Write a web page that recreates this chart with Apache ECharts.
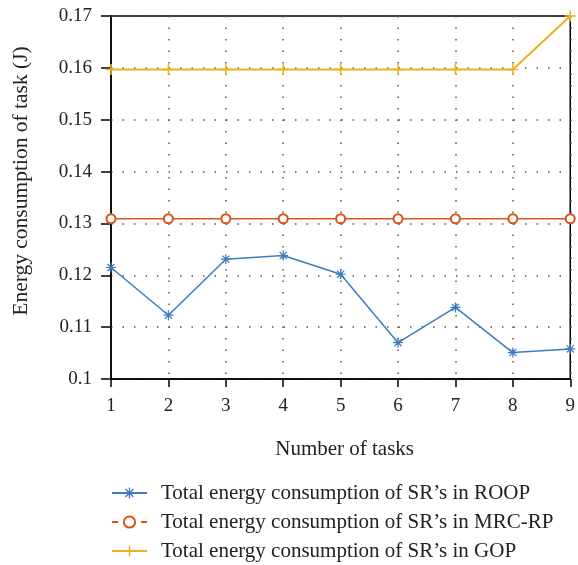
<!DOCTYPE html>
<html><head><meta charset="utf-8">
<script src="https://cdn.jsdelivr.net/npm/echarts@6/dist/echarts.min.js"></script>
<style>html,body{margin:0;padding:0;background:#fff}#c{width:578px;height:565px}</style>
</head><body><div id="c"></div>
<script>
const categories = ['1','2','3','4','5','6','7','8','9'];
const roop = [0.1215, 0.1123, 0.1231, 0.1238, 0.1202, 0.1070, 0.1138, 0.1051, 0.1058];
const mrcrp = [0.1309, 0.1309, 0.1309, 0.1309, 0.1309, 0.1309, 0.1309, 0.1309, 0.1309];
const gop = [0.1597, 0.1597, 0.1597, 0.1597, 0.1597, 0.1597, 0.1597, 0.1597, 0.1700];
const names = ["Total energy consumption of SR’s in ROOP", "Total energy consumption of SR’s in MRC-RP", "Total energy consumption of SR’s in GOP"];
const yTicks = { min: 0.1, max: 0.17, interval: 0.01 };
const xTitle = 'Number of tasks';
const yTitle = 'Energy consumption of task (J)';

const font = 'Liberation Serif';
const asterisk = 'path://M-0.6,-5 L0.6,-5 L0.6,5 L-0.6,5 Z M-5,-0.6 L5,-0.6 L5,0.6 L-5,0.6 Z M-3.96,-3.11 L-3.11,-3.96 L3.96,3.11 L3.11,3.96 Z M3.11,-3.96 L3.96,-3.11 L-3.11,3.96 L-3.96,3.11 Z';
const plus = 'path://M-0.7,-5 L0.7,-5 L0.7,5 L-0.7,5 Z M-5,-0.7 L5,-0.7 L5,0.7 L-5,0.7 Z';

const chart = echarts.init(document.getElementById('c'));
chart.setOption({
  animation: false,
  textStyle: { fontFamily: font },
  grid: { left: 111, right: 6, top: 16, bottom: 186, show: true, borderColor: '#000', borderWidth: 1.5, backgroundColor: 'transparent' },
  graphic: [{
    type: 'text', x: 21, y: 181, rotation: Math.PI / 2,
    style: { text: yTitle, font: '21.5px "Liberation Serif"', fill: '#222', align: 'center', verticalAlign: 'middle' }
  }],
  xAxis: {
    type: 'category', data: categories, boundaryGap: false,
    name: xTitle, nameLocation: 'middle', nameGap: 60,
    nameTextStyle: { fontSize: 21, color: '#222', fontFamily: font, padding: [0, 0, 0, 8] },
    axisLine: { lineStyle: { color: '#000', width: 1.5 } },
    axisTick: { show: true, inside: false, length: 8, lineStyle: { color: '#000', width: 1.5 } },
    axisLabel: { fontSize: 19, color: '#222', margin: 18, fontFamily: font },
    splitLine: { show: true, lineStyle: { color: '#555', type: [1.5, 10], width: 1.5 } }
  },
  yAxis: {
    type: 'value', min: yTicks.min, max: yTicks.max, interval: yTicks.interval,
    axisLine: { show: true, lineStyle: { color: '#000', width: 1.5 } },
    axisTick: { show: true, inside: false, length: 10, lineStyle: { color: '#000', width: 1.5 } },
    axisLabel: { fontSize: 19, color: '#222', margin: 19, fontFamily: font,
      formatter: v => String(parseFloat(v.toFixed(2))) },
    splitLine: { show: true, lineStyle: { color: '#555', type: [1.5, 10], width: 1.5 } }
  },
  legend: {
    orient: 'vertical', left: 111, top: 482, padding: 0, itemGap: 7, itemWidth: 35, itemHeight: 14,
    textStyle: { fontSize: 21, lineHeight: 22, color: '#222', fontFamily: font, padding: [0, 0, 0, 9] },
    data: [
      { name: names[0] },
      { name: names[1], lineStyle: { type: [6, 23] } },
      { name: names[2] }
    ]
  },
  series: [
    { name: names[0], type: 'line', data: roop, symbol: asterisk, symbolSize: 10,
      color: '#3B7CC0', lineStyle: { width: 1.5, color: '#3B7CC0' }, itemStyle: { color: '#3B7CC0' }, z: 5 },
    { name: names[1], type: 'line', data: mrcrp, symbol: 'emptyCircle', symbolSize: 9,
      color: '#D95319', lineStyle: { width: 1.5, color: '#D95319' }, itemStyle: { color: '#D95319', borderColor: '#D95319', borderWidth: 2.5 }, z: 4 },
    { name: names[2], type: 'line', data: gop, symbol: plus, symbolSize: 11,
      color: '#EDB120', lineStyle: { width: 2, color: '#EDB120' }, itemStyle: { color: '#EDB120' }, z: 3 }
  ]
});
</script></body></html>
